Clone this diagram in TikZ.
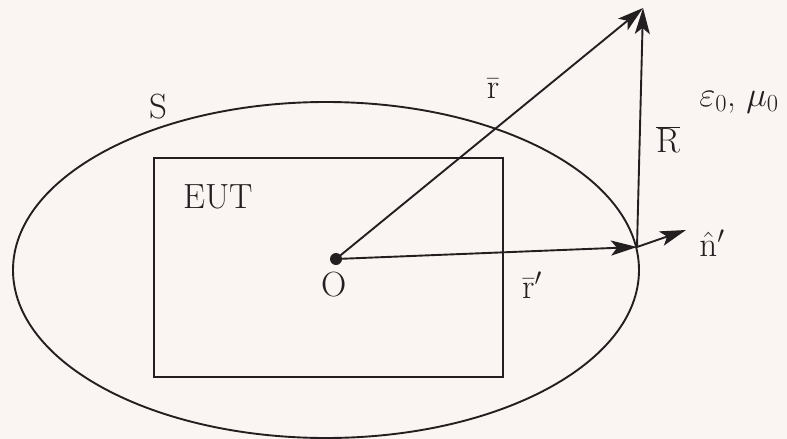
\RequirePackage{fix-cm}
\documentclass[tikz,border=0pt]{standalone}
\usetikzlibrary{shapes.geometric,arrows.meta}
\definecolor{bg}{HTML}{FAF5F2}
\definecolor{ink}{HTML}{231F20}
\begin{document}
\begin{tikzpicture}[x=1pt,y=-1pt,
  line/.style={draw=ink,line width=1.9pt},
  vec/.style={line,-{Stealth[length=26pt,width=15pt,inset=6pt]}},
  lbl/.style={text=ink,inner sep=0pt,font=\fontsize{35}{42}\selectfont}]
\fill[bg] (0,0) rectangle (787,439);
\useasboundingbox (0,0) rectangle (787,439);
\node[line,ellipse,minimum width=626pt,minimum height=336pt,inner sep=0pt] (S) at (326,270) {};
\node[line,rectangle,minimum width=349pt,minimum height=219pt,inner sep=0pt] (EUTbox) at (328.5,267.5) {};
\coordinate (O) at (336,259);
\coordinate (T) at (643,8);
\coordinate (P) at (637,247);
\coordinate (N) at (686,230);
\draw[vec] (O) -- (T);
\draw[vec] (O) -- (P);
\draw[vec] (P) -- (T);
\draw[vec] (P) -- (N);
\fill[ink] (O) circle (6pt);
\node[lbl] (Slbl) at (158,107) {S};
\node[lbl] (EUT) at (218,197) {EUT};
\node[lbl] (Olbl) at (334,285) {O};
\node[lbl] (r) at (493,89) {$\bar{\mathrm{r}}$};
\node[lbl] (rp) at (532,285) {$\bar{\mathrm{r}}\mathrm{'}$};
\node[lbl] (R) at (668,140) {$\overline{\mathrm{R}}$};
\node[lbl] (eps) at (739,102) {$\varepsilon_0$, $\mu_0$};
\node[lbl] (n) at (712,243) {$\hat{\mathrm{n}}\mathrm{'}$};
\end{tikzpicture}
\end{document}
